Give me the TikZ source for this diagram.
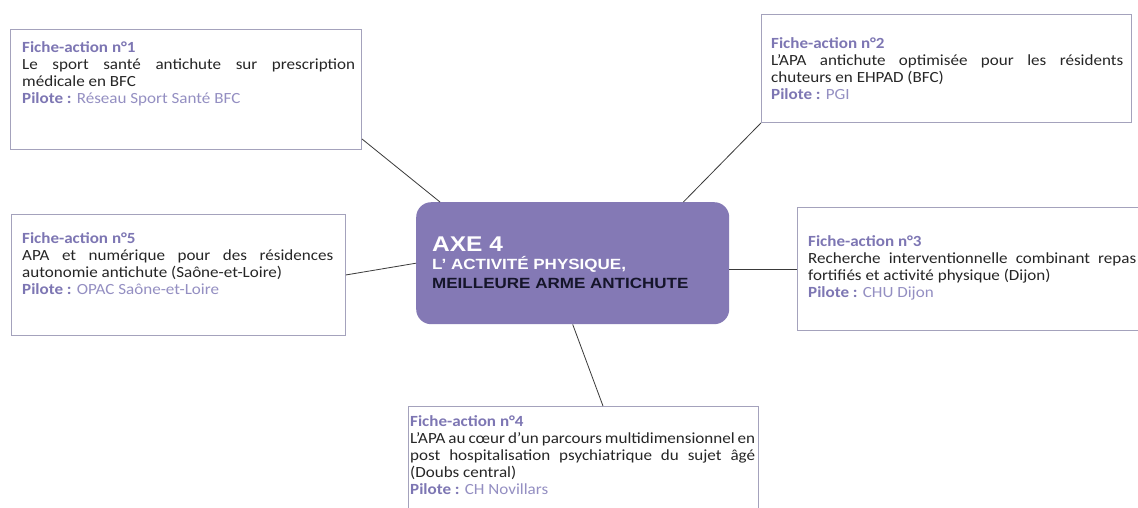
\documentclass[tikz,border=0pt]{standalone}
\usepackage{fontspec}
\setmainfont{Carlito}[FakeStretch=1.1]
\newfontfamily\axefont{Liberation Sans}[FakeStretch=1.15]
\usetikzlibrary{calc}
\definecolor{axefill}{HTML}{8479B5}
\definecolor{ficheTitle}{HTML}{7D76B3}
\definecolor{piloteName}{HTML}{948FC2}
\definecolor{bodyText}{HTML}{262626}
\definecolor{boxBorder}{HTML}{A4A2BC}
\definecolor{linkLine}{HTML}{3A3A3A}
\definecolor{axeDark}{HTML}{15152A}
\newcommand\ftitle[1]{{\bfseries\color{ficheTitle}#1}}
\newcommand\fpilote[1]{{\bfseries\color{ficheTitle}Pilote :} {\color{piloteName}#1}}
\begin{document}
\begin{tikzpicture}[x=1pt,y=-1pt,
  fichebox/.style={draw=boxBorder, line width=0.9pt, fill=white, inner sep=0pt, anchor=north west},
  fichetext/.style={anchor=north west, inner sep=0pt, align=justify,
    font=\fontsize{15.5}{17}\selectfont, text=bodyText},
  axebox/.style={fill=axefill, rounded corners=15pt, inner sep=0pt, anchor=north west,
    minimum width=313pt, minimum height=122pt},
  axebig/.style={anchor=base west, inner sep=0pt, text=white, font=\axefont\bfseries\fontsize{21.3}{24}\selectfont},
  axesmall/.style={anchor=base west, inner sep=0pt, font=\axefont\bfseries\fontsize{14.8}{17}\selectfont},
  link/.style={draw=linkLine, line width=0.8pt}]
\useasboundingbox (0,0) rectangle (1138,507);
\clip (0,0) rectangle (1138,507);
\fill[white] (0,0) rectangle (1138,507);

% central node
\node[axebox] (c) at (416,202) {};
\node[axebig] (cA) at (432,251) {AXE 4};
\node[axesmall, text=white] (cB) at (432,269) {L’ ACTIVITÉ PHYSIQUE,};
\node[axesmall, text=axeDark] (cC) at (432,288) {MEILLEURE ARME ANTICHUTE};

% boxes
\node[fichebox, minimum width=351pt, minimum height=120pt] (b1) at (10,29) {};
\node[fichebox, minimum width=370pt, minimum height=108pt] (b2) at (761,14) {};
\node[fichebox, minimum width=334pt, minimum height=121pt] (b5) at (11,214) {};
\node[fichebox, minimum width=360pt, minimum height=123pt] (b3) at (797,207) {};
\node[fichebox, minimum width=350pt, minimum height=130pt] (b4) at (408,406) {};

% texts
\node[fichetext, text width=333pt] (t1) at (22,41) {\ftitle{Fiche-action n°1}\\
  Le sport santé antichute sur prescription\linebreak médicale en BFC\\
  \fpilote{Réseau Sport Santé BFC}};
\node[fichetext, text width=352pt] (t2) at (771,37) {\ftitle{Fiche-action n°2}\\
  L’APA antichute optimisée pour les résidents\linebreak chuteurs en EHPAD (BFC)\\
  \fpilote{PGI}};
\node[fichetext, text width=311pt] (t5) at (22,232) {\ftitle{Fiche-action n°5}\\
  APA et numérique pour des résidences\linebreak autonomie antichute (Saône-et-Loire)\\
  \fpilote{OPAC Saône-et-Loire}};
\node[fichetext, text width=328pt] (t3) at (808,235) {\ftitle{Fiche-action n°3}\\
  Recherche interventionnelle combinant repas\linebreak fortifiés et activité physique (Dijon)\\
  \fpilote{CHU Dijon}};
\node[fichetext, text width=345pt] (t4) at (410,415) {\ftitle{Fiche-action n°4}\\
  L’APA au cœur d’un parcours multidimensionnel en\linebreak post hospitalisation psychiatrique du sujet âgé\linebreak (Doubs central)\\
  \fpilote{CH Novillars}};

% connectors
\draw[link] ($(b1.south east)+(0,-11)$) -- ($(c.north west)+(24,0)$);
\draw[link] (b2.south west) -- ($(c.north east)+(-46,0)$);
\draw[link] (b5.east) -- (c.west);
\draw[link] (c.east |- b3.west) -- (b3.west);
\draw[link] (c.south) -- ($(b4.north west)+(195,0)$);
\end{tikzpicture}
\end{document}
